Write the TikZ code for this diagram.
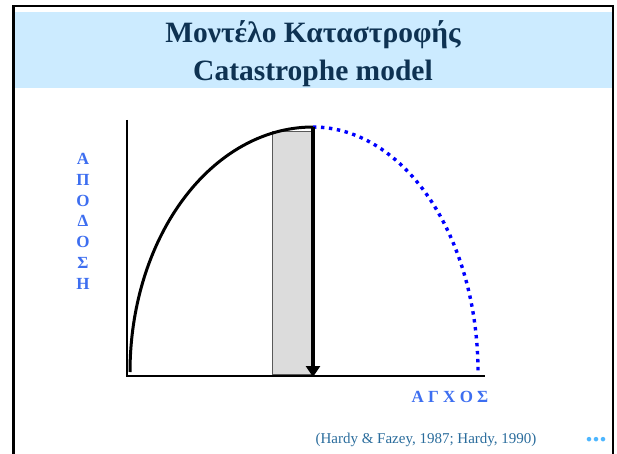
\documentclass[tikz,border=0pt]{standalone}
\usepackage{fontspec}
\setmainfont{Liberation Serif}
\usetikzlibrary{arrows.meta}
\definecolor{bandblue}{HTML}{CCEBFF}
\definecolor{titlenavy}{HTML}{0E3252}
\definecolor{lblblue}{HTML}{3D6EF0}
\definecolor{citeblue}{HTML}{2A6C9C}
\definecolor{dotcyan}{HTML}{4DB6FF}
\definecolor{barfill}{HTML}{DCDCDC}
\tikzset{
  titletext/.style={font=\fontsize{29.5}{34}\selectfont\bfseries, text=titlenavy, inner sep=0pt, align=center},
  axislbl/.style={font=\fontsize{17}{19}\selectfont\bfseries, text=lblblue, inner sep=0pt},
  citetext/.style={font=\fontsize{15}{17}\selectfont, text=citeblue, inner sep=0pt},
  axisline/.style={line width=2.8pt, black},
}
\begin{document}
\begin{tikzpicture}[x=1pt,y=-1pt]
\useasboundingbox (0,0) rectangle (617,454);
% frame and title band
\fill[bandblue] (15,12) rectangle (612,88);
\draw[line width=2.6pt] (13.5,454) -- (13.5,6) -- (613,6) -- (613,454);
\node[titletext, anchor=base] (t1) at (313,43) {Μοντέλο Καταστροφής};
\node[titletext, anchor=base] (t2) at (313,81) {Catastrophe model};
% bar
\draw[fill=barfill, draw=black!65, line width=1pt] (272,132) rectangle (312,374);
% axes
\coordinate (ytop) at (127,120);
\coordinate (orig) at (127,376);
\coordinate (xend) at (485,376);
\draw[axisline] (ytop) -- (orig) -- (xend);
% curves
\draw[line width=3pt] plot[domain=180:90, samples=60, smooth] ({313+183*cos(\x)},{372-245*sin(\x)});
\draw[blue, line width=3.4pt, dash pattern=on 3.4pt off 4.6pt] plot[domain=90:0, samples=60, smooth] ({313+165*cos(\x)},{372-245*sin(\x)});
% arrow
\coordinate (peak) at (313,127);
\coordinate (foot) at (313,377);
\draw[line width=3.8pt, -{Triangle[width=14pt,length=11pt]}] (peak) -- (foot);
% labels
\node[axislbl] (ya) at (83,159) {Α};
\node[axislbl] (yp) at (83,180) {Π};
\node[axislbl] (yo) at (83,201) {Ο};
\node[axislbl] (yd) at (83,221) {Δ};
\node[axislbl] (yo2) at (83,242) {Ο};
\node[axislbl] (ys) at (83,263) {Σ};
\node[axislbl] (yh) at (83,284) {Η};
\node[axislbl] (xl) at (450,397) {Α Γ Χ Ο Σ};
\node[citetext] (cite) at (426,440) {(Hardy \& Fazey, 1987; Hardy, 1990)};
\node[font=\fontsize{28}{28}\selectfont\bfseries, text=dotcyan, inner sep=0pt, anchor=base] (dots) at (596,441) {...};
\end{tikzpicture}
\end{document}
